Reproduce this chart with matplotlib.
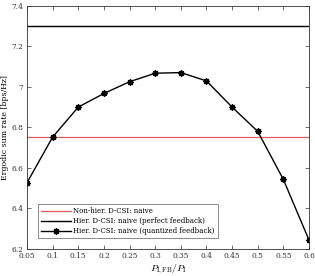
import matplotlib.pyplot as plt

plt.rcParams['font.family'] = 'serif'
plt.rcParams['font.serif'] = ['DejaVu Serif']
plt.rcParams['mathtext.fontset'] = 'cm'

ratio = [0.05, 0.1, 0.15, 0.2, 0.25, 0.3, 0.35, 0.4, 0.45, 0.5, 0.55, 0.6]
quantized = [6.527, 6.752, 6.90, 6.967, 7.025, 7.067, 7.07, 7.029, 6.90, 6.78, 6.543, 6.244]
nonhier = 6.75
perfect = 7.30
xticks = [0.05, 0.1, 0.15, 0.2, 0.25, 0.3, 0.35, 0.4, 0.45, 0.5, 0.55, 0.6]
xticklabels = ["0.05", "0.1", "0.15", "0.2", "0.25", "0.3", "0.35", "0.4", "0.45", "0.5", "0.55", "0.6"]
yticks = [6.2, 6.4, 6.6, 6.8, 7, 7.2, 7.4]
yticklabels = ["6.2", "6.4", "6.6", "6.8", "7", "7.2", "7.4"]

fig = plt.figure(figsize=(3.15, 2.76), dpi=100)
ax = fig.add_axes([27/315, 1 - 249/276, 282/315, 243.3/276])

ax.axhline(nonhier, color="#e05a5a", lw=0.9, label="Non-hier. D-CSI: naive")
ax.axhline(perfect, color="black", lw=1.0, label="Hier. D-CSI: naive (perfect feedback)")
ax.plot(ratio, quantized, color="black", lw=1.0, marker=(8, 2, 0), ms=4.5, mew=1.0,
        label="Hier. D-CSI: naive (quantized feedback)")

ax.set_xlim(0.05, 0.6)
ax.set_ylim(6.2, 7.4)
ax.set_xticks(xticks)
ax.set_xticklabels(xticklabels)
ax.set_yticks(yticks)
ax.set_yticklabels(yticklabels)
ax.tick_params(direction="in", top=True, right=True, labelsize=5.3, length=3, width=0.5,
               colors="#333333", pad=2.5)
for s in ax.spines.values():
    s.set_linewidth(0.6)
    s.set_color("#333333")
ax.set_xlabel(r"$P_{\rm I,FB}/P_{\rm I}$", fontsize=7, labelpad=1)
ax.set_ylabel("Ergodic sum rate [bps/Hz]", fontsize=5.6)
ax.yaxis.set_label_coords(-0.064, 0.5)

leg = ax.legend(loc="lower left", bbox_to_anchor=(0.025, 0.03), fontsize=5.0, fancybox=False,
                edgecolor="#555555", handlelength=4.3, borderpad=0.45, labelspacing=0.3,
                handletextpad=0.4)
leg.get_frame().set_linewidth(0.6)

fig.savefig("out.png", dpi=100)
